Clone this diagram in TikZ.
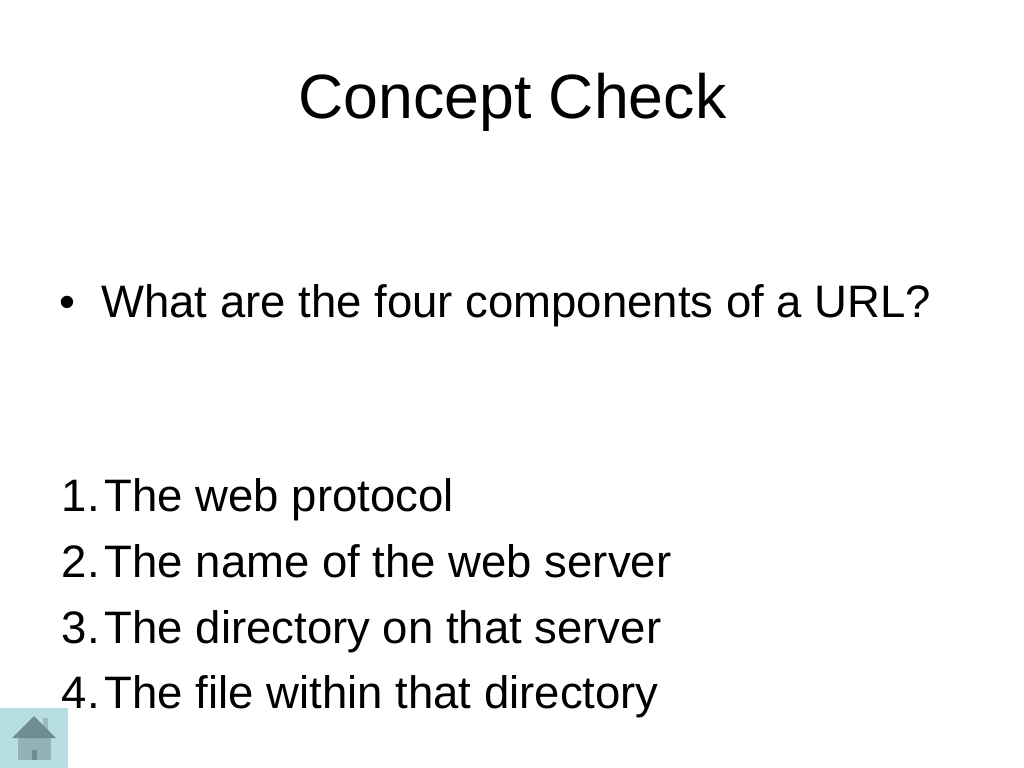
\documentclass[tikz,border=0pt]{standalone}
\usepackage{fontspec}
\setmainfont{Liberation Sans}
\tikzset{
  titletext/.style={anchor=base,inner sep=0pt,font=\fontsize{44}{50}\selectfont},
  bodytext/.style={anchor=base west,inner sep=0pt,font=\fontsize{32}{38}\selectfont},
}
\definecolor{btnfill}{HTML}{B7DEE3}
\definecolor{roofcol}{HTML}{6F8C94}
\definecolor{wallcol}{HTML}{93B1B8}
\definecolor{doorcol}{HTML}{6F8C94}
\begin{document}
\begin{tikzpicture}[x=0.703125pt,y=-0.703125pt]
\useasboundingbox (0,0) rectangle (1024,768);
\fill[white] (0,0) rectangle (1024,768);
% home button
\fill[btnfill] (0,708) rectangle (68,768);
\fill[wallcol!80!btnfill] (43,718) rectangle (48,732);
\fill[wallcol] (18,738) rectangle (51,760);
\fill[roofcol] (34,716) -- (56,738) -- (12,738) -- cycle;
\fill[doorcol] (32,750) rectangle (37,760);
% text
\node[titletext] (title) at (512.5,119) {Concept Check};
\node[bodytext] (bullet) at (59,318) {•};
\node[bodytext] (question) at (101,318) {What are the four components of a URL?};
\foreach \n/\y/\txt in {1/511.5/The web protocol,2/577.5/The name of the web server,3/643/The directory on that server,4/708.5/The file within that directory}{
  \node[bodytext] (num\n) at (61.5,\y) {\n.};
  \node[bodytext] (item\n) at (104.5,\y) {\txt};
}
\end{tikzpicture}
\end{document}
